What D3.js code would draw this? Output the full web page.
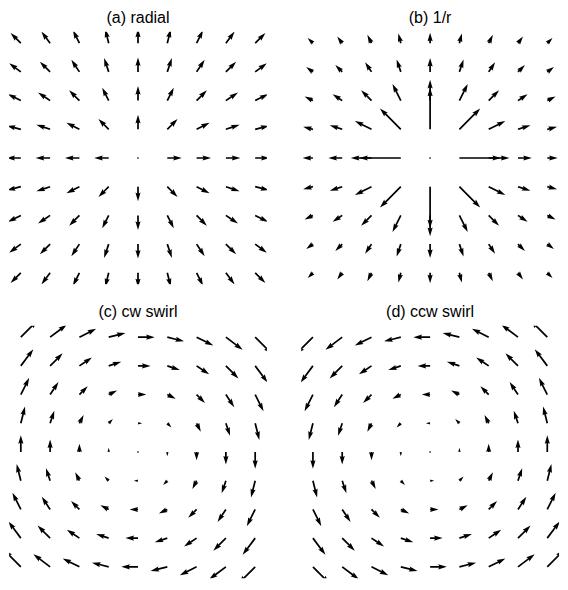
<!DOCTYPE html>
<html><head><meta charset="utf-8">
<script src="https://cdn.jsdelivr.net/npm/d3@7"></script>
<style>html,body{margin:0;padding:0;background:#fff;} svg{display:block;}</style>
</head><body>
<script>
// grid (columns left->right, rows top->bottom)
const gridX = [-4, -3, -2, -1, 0, 1, 2, 3, 4];
const gridY = [4, 3, 2, 1, 0, -1, -2, -3, -4];

const titles = ["(a) radial", "(b) 1/r", "(c) cw swirl", "(d) ccw swirl"];

// (a) radial
const radialU = [
  [-0.707,-0.6,-0.447,-0.243,0,0.243,0.447,0.6,0.707],
  [-0.8,-0.707,-0.555,-0.316,0,0.316,0.555,0.707,0.8],
  [-0.894,-0.832,-0.707,-0.447,0,0.447,0.707,0.832,0.894],
  [-0.970,-0.949,-0.894,-0.707,0,0.707,0.894,0.949,0.970],
  [-1,-1,-1,-1,0,1,1,1,1],
  [-0.970,-0.949,-0.894,-0.707,0,0.707,0.894,0.949,0.970],
  [-0.894,-0.832,-0.707,-0.447,0,0.447,0.707,0.832,0.894],
  [-0.8,-0.707,-0.555,-0.316,0,0.316,0.555,0.707,0.8],
  [-0.707,-0.6,-0.447,-0.243,0,0.243,0.447,0.6,0.707]
];
const radialV = [
  [0.707,0.8,0.894,0.970,1,0.970,0.894,0.8,0.707],
  [0.6,0.707,0.832,0.949,1,0.949,0.832,0.707,0.6],
  [0.447,0.555,0.707,0.894,1,0.894,0.707,0.555,0.447],
  [0.243,0.316,0.447,0.707,1,0.707,0.447,0.316,0.243],
  [0,0,0,0,0,0,0,0,0],
  [-0.243,-0.316,-0.447,-0.707,-1,-0.707,-0.447,-0.316,-0.243],
  [-0.447,-0.555,-0.707,-0.894,-1,-0.894,-0.707,-0.555,-0.447],
  [-0.6,-0.707,-0.832,-0.949,-1,-0.949,-0.832,-0.707,-0.6],
  [-0.707,-0.8,-0.894,-0.970,-1,-0.970,-0.894,-0.8,-0.707]
];

// (b) 1/r
const invrU = [
  [-0.125,-0.12,-0.1,-0.059,0,0.059,0.1,0.12,0.125],
  [-0.16,-0.167,-0.154,-0.1,0,0.1,0.154,0.167,0.16],
  [-0.2,-0.231,-0.25,-0.2,0,0.2,0.25,0.231,0.2],
  [-0.235,-0.3,-0.4,-0.5,0,0.5,0.4,0.3,0.235],
  [-0.25,-0.333,-0.5,-1,0,1,0.5,0.333,0.25],
  [-0.235,-0.3,-0.4,-0.5,0,0.5,0.4,0.3,0.235],
  [-0.2,-0.231,-0.25,-0.2,0,0.2,0.25,0.231,0.2],
  [-0.16,-0.167,-0.154,-0.1,0,0.1,0.154,0.167,0.16],
  [-0.125,-0.12,-0.1,-0.059,0,0.059,0.1,0.12,0.125]
];
const invrV = [
  [0.125,0.16,0.2,0.235,0.25,0.235,0.2,0.16,0.125],
  [0.12,0.167,0.231,0.3,0.333,0.3,0.231,0.167,0.12],
  [0.1,0.154,0.25,0.4,0.5,0.4,0.25,0.154,0.1],
  [0.059,0.1,0.2,0.5,1,0.5,0.2,0.1,0.059],
  [0,0,0,0,0,0,0,0,0],
  [-0.059,-0.1,-0.2,-0.5,-1,-0.5,-0.2,-0.1,-0.059],
  [-0.1,-0.154,-0.25,-0.4,-0.5,-0.4,-0.25,-0.154,-0.1],
  [-0.12,-0.167,-0.231,-0.3,-0.333,-0.3,-0.231,-0.167,-0.12],
  [-0.125,-0.16,-0.2,-0.235,-0.25,-0.235,-0.2,-0.16,-0.125]
];

// (c) cw swirl
const cwU = [
  [4,4,4,4,4,4,4,4,4],
  [3,3,3,3,3,3,3,3,3],
  [2,2,2,2,2,2,2,2,2],
  [1,1,1,1,1,1,1,1,1],
  [0,0,0,0,0,0,0,0,0],
  [-1,-1,-1,-1,-1,-1,-1,-1,-1],
  [-2,-2,-2,-2,-2,-2,-2,-2,-2],
  [-3,-3,-3,-3,-3,-3,-3,-3,-3],
  [-4,-4,-4,-4,-4,-4,-4,-4,-4]
];
const cwV = [
  [4,3,2,1,0,-1,-2,-3,-4],
  [4,3,2,1,0,-1,-2,-3,-4],
  [4,3,2,1,0,-1,-2,-3,-4],
  [4,3,2,1,0,-1,-2,-3,-4],
  [4,3,2,1,0,-1,-2,-3,-4],
  [4,3,2,1,0,-1,-2,-3,-4],
  [4,3,2,1,0,-1,-2,-3,-4],
  [4,3,2,1,0,-1,-2,-3,-4],
  [4,3,2,1,0,-1,-2,-3,-4]
];

// (d) ccw swirl
const ccwU = [
  [-4,-4,-4,-4,-4,-4,-4,-4,-4],
  [-3,-3,-3,-3,-3,-3,-3,-3,-3],
  [-2,-2,-2,-2,-2,-2,-2,-2,-2],
  [-1,-1,-1,-1,-1,-1,-1,-1,-1],
  [0,0,0,0,0,0,0,0,0],
  [1,1,1,1,1,1,1,1,1],
  [2,2,2,2,2,2,2,2,2],
  [3,3,3,3,3,3,3,3,3],
  [4,4,4,4,4,4,4,4,4]
];
const ccwV = [
  [-4,-3,-2,-1,0,1,2,3,4],
  [-4,-3,-2,-1,0,1,2,3,4],
  [-4,-3,-2,-1,0,1,2,3,4],
  [-4,-3,-2,-1,0,1,2,3,4],
  [-4,-3,-2,-1,0,1,2,3,4],
  [-4,-3,-2,-1,0,1,2,3,4],
  [-4,-3,-2,-1,0,1,2,3,4],
  [-4,-3,-2,-1,0,1,2,3,4],
  [-4,-3,-2,-1,0,1,2,3,4]
];

const fields = [[radialU, radialV], [invrU, invrV], [cwU, cwV], [ccwU, ccwV]];

// ---- layout ----
const W = 568, H = 590;
const axW = 257.8, axH = 252.6;
const lefts = [9.1, 301.2], tops = [31.7, 325.7];

const svg = d3.select("body").append("svg").attr("width", W).attr("height", H);

// quiver arrow shape (matplotlib-like), in shaft-width units
function arrowPts(L) {
  const hl = 5, hal = 4.5, hw = 3, minsh = 5, minlen = 1;
  if (L < minlen) {
    const pts = [];
    for (let k = 0; k < 8; k++) { const th = k * Math.PI / 3; pts.push([Math.cos(th) * 0.5, Math.sin(th) * 0.5]); }
    return pts;
  }
  if (L < minsh) {
    const s = L / minsh;
    return [[0,0.5],[minsh-hal,0.5],[minsh-hl,hw/2],[minsh,0],[minsh-hl,-hw/2],[minsh-hal,-0.5],[0,-0.5]].map(p => [p[0]*s, p[1]*s]);
  }
  return [[0,0.5],[L-hal,0.5],[L-hl,hw/2],[L,0],[L-hl,-hw/2],[L-hal,-0.5],[0,-0.5]];
}

fields.forEach((f, i) => {
  const [U, V] = f;
  const left = lefts[i % 2], top = tops[Math.floor(i / 2)];
  const marg = 0.05 * (d3.max(gridX) - d3.min(gridX));
  const x = d3.scaleLinear().domain([d3.min(gridX) - marg, d3.max(gridX) + marg]).range([left, left + axW]);
  const y = d3.scaleLinear().domain([d3.min(gridY) - marg, d3.max(gridY) + marg]).range([top + axH, top]);

  const items = [];
  gridY.forEach((gy, r) => gridX.forEach((gx, c) => items.push({gx, gy, u: U[r][c], v: V[r][c]})));
  const mags = items.map(d => Math.hypot(d.u, d.v));
  const amean = d3.mean(mags);
  const sn = Math.max(10, Math.sqrt(items.length));
  const wpx = 0.06 * axW / Math.min(25, Math.max(8, Math.sqrt(items.length)));
  const lenScale = d3.scaleLinear().domain([0, 1.8 * amean * sn]).range([0, axW]);

  const clipId = "clip" + i;
  svg.append("clipPath").attr("id", clipId).append("rect")
    .attr("x", left).attr("y", top).attr("width", axW).attr("height", axH);

  const g = svg.append("g").attr("clip-path", `url(#${clipId})`);
  g.selectAll("path").data(items).join("path")
    .attr("fill", "#000")
    .attr("d", d => {
      const m = Math.hypot(d.u, d.v);
      const L = lenScale(m) / wpx;
      const th = Math.atan2(d.v, d.u);
      const cs = Math.cos(th), sn2 = Math.sin(th);
      const tx = x(d.gx), ty = y(d.gy);
      const pts = arrowPts(L).map(p => [tx + wpx * (p[0] * cs - p[1] * sn2), ty - wpx * (p[0] * sn2 + p[1] * cs)]);
      return "M" + pts.map(p => p[0].toFixed(2) + "," + p[1].toFixed(2)).join("L") + "Z";
    });

  svg.append("text")
    .attr("x", left + axW / 2).attr("y", top - 9)
    .attr("text-anchor", "middle")
    .attr("font-family", "'Liberation Sans', Arial, sans-serif")
    .attr("font-size", 16)
    .attr("fill", "#000")
    .text(titles[i]);
});
</script>
</body></html>
